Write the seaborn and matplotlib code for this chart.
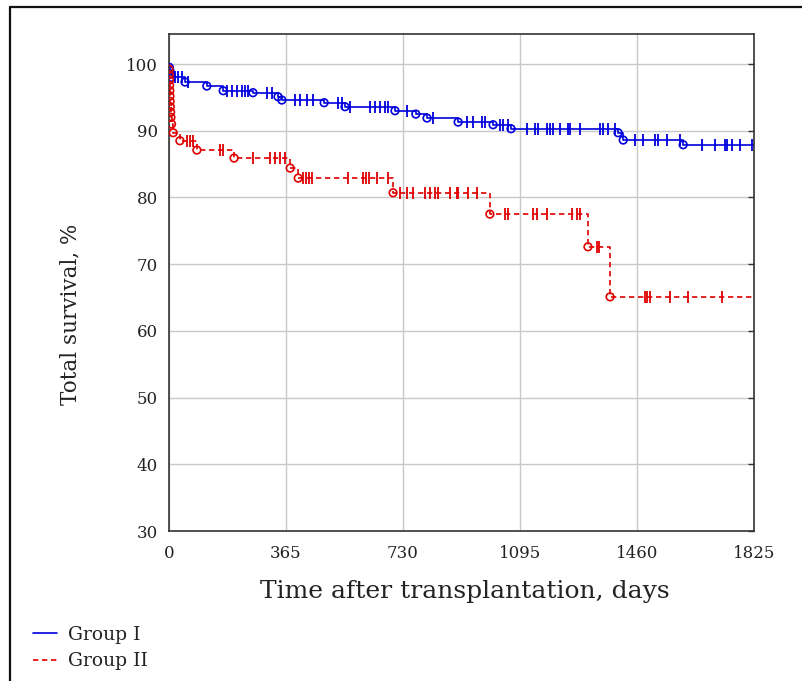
import numpy as np
import pandas as pd
import matplotlib
matplotlib.use("Agg")
import matplotlib.pyplot as plt
from matplotlib.lines import Line2D
import seaborn as sns

# ---- data ----
x_ticks = [0, 365, 730, 1095, 1460, 1825]
y_ticks = [30, 40, 50, 60, 70, 80, 90, 100]

# Group I: event times (days) and survival (%) after each event
g1_event_t = [1, 3, 5, 8, 50, 118, 169, 262, 340, 352, 484, 549, 705, 770, 805,
              902, 1011, 1067, 1401, 1417, 1604]
g1_event_s = [99.5, 99.0, 98.5, 98.0, 97.3, 96.7, 96.0, 95.7, 95.1, 94.6, 94.2,
              93.6, 93.0, 92.5, 91.9, 91.3, 90.9, 90.3, 89.7, 88.6, 87.9]
g1_censor_t = [19, 28, 41, 59, 181, 197, 212, 228, 237, 247, 306, 321, 393, 409,
               431, 449, 527, 540, 565, 627, 643, 659, 674, 684, 743, 824, 930,
               948, 977, 986, 1033, 1042, 1058, 1117, 1142, 1151, 1180, 1189,
               1198, 1220, 1245, 1251, 1282, 1345, 1354, 1370, 1392, 1454, 1479,
               1516, 1526, 1554, 1594, 1663, 1703, 1735, 1741, 1757, 1782, 1819]

# Group II
g2_event_t = [0.5, 1, 1.5, 2, 2.5, 3, 3.5, 4, 5, 6, 8, 13, 34, 87, 203, 378, 403,
              699, 1001, 1307, 1376]
g2_event_s = [99.2, 98.4, 97.6, 96.8, 96.0, 95.2, 94.4, 93.6, 92.8, 92.0, 91.0,
              89.7, 88.5, 87.1, 85.9, 84.4, 82.9, 80.7, 77.5, 72.6, 65.1]
g2_censor_t = [56, 66, 75, 159, 168, 262, 315, 331, 346, 362, 418, 427, 437, 446,
               558, 605, 615, 624, 649, 683, 721, 743, 761, 799, 814, 830, 839,
               877, 899, 902, 933, 961, 1048, 1058, 1136, 1148, 1179, 1257, 1273,
               1282, 1335, 1342, 1485, 1491, 1501, 1563, 1619, 1725]

group_names = ["Group I", "Group II"]
x_max = 1825
start_s = 100.0


def step_frame(ev_t, ev_s, name):
    t = [0.0] + list(ev_t) + [x_max]
    s = [start_s] + list(ev_s) + [ev_s[-1]]
    return pd.DataFrame({"t": t, "s": s, "group": name})


def censor_frame(ev_t, ev_s, c_t, name):
    ev_t = np.asarray(ev_t, float)
    levels = np.concatenate([[start_s], ev_s])
    idx = np.searchsorted(ev_t, np.asarray(c_t, float), side="right")
    return pd.DataFrame({"t": c_t, "s": levels[idx], "group": name})


sns.set_theme(style="whitegrid")
plt.rcParams["font.family"] = ["DejaVu Serif"]

fig = plt.figure(figsize=(8.03, 6.81), dpi=100)
ax = fig.add_axes([169 / 803, 1 - 531 / 681, (754 - 169) / 803, (531 - 34) / 681])

colors = {"Group I": "#0000dd", "Group II": "#e00000"}
styles = {"Group I": "-", "Group II": (0, (3.2, 2.2))}

series = [(g1_event_t, g1_event_s, g1_censor_t, group_names[0]),
          (g2_event_t, g2_event_s, g2_censor_t, group_names[1])]

for ev_t, ev_s, c_t, name in series:
    df = step_frame(ev_t, ev_s, name)
    sns.lineplot(data=df, x="t", y="s", ax=ax, estimator=None, sort=False,
                 drawstyle="steps-post", color=colors[name], linewidth=1.2,
                 linestyle=styles[name], legend=False)
    ev = pd.DataFrame({"t": ev_t, "s": ev_s})
    sns.scatterplot(data=ev, x="t", y="s", ax=ax, marker="o", s=30,
                    facecolor="none", edgecolor=colors[name], linewidth=1.2,
                    legend=False, zorder=4)
    cf = censor_frame(ev_t, ev_s, c_t, name)
    sns.scatterplot(data=cf, x="t", y="s", ax=ax, marker="|", s=70,
                    color=colors[name], linewidth=1.3, legend=False, zorder=4)

ax.set_xlim(0, x_max)
ax.set_ylim(30, 104.5)
ax.set_xticks(x_ticks)
ax.set_yticks(y_ticks)
ax.grid(True, color="#c8c8c8", linewidth=1.0)
for sp in ax.spines.values():
    sp.set_color("#333333")
    sp.set_linewidth(1.2)
ax.tick_params(axis="both", labelsize=12, colors="#222222", length=0)
ax.tick_params(axis="x", pad=10)
ax.tick_params(axis="y", pad=8)
ax.tick_params(axis="y", right=True, direction="in", length=4, width=1, color="#333333")
ax.set_xlabel("Time after transplantation, days", fontsize=18, color="#222222")
ax.xaxis.set_label_coords(0.505, -0.098)
ax.set_ylabel("Total survival, %", fontsize=15.5, color="#222222")
ax.yaxis.set_label_coords(-0.15, 0.435)

# outer frame lines (top and left)
fig.add_artist(Line2D([10 / 803, 1.0], [1 - 7 / 681, 1 - 7 / 681], color="#111111",
                      linewidth=1.6, transform=fig.transFigure))
fig.add_artist(Line2D([10 / 803, 10 / 803], [0, 1 - 7 / 681], color="#111111",
                      linewidth=1.6, transform=fig.transFigure))

handles = [Line2D([], [], color=colors[n], linestyle=styles[n], linewidth=1.2)
           for n in group_names]
fig.legend(handles, group_names, loc="upper left",
           bbox_to_anchor=(16 / 803, 1 - 609 / 681), frameon=False,
           fontsize=13.5, handlelength=1.3, handletextpad=0.6, labelspacing=0.45,
           labelcolor="#222222")

fig.savefig("out.png", dpi=100)
